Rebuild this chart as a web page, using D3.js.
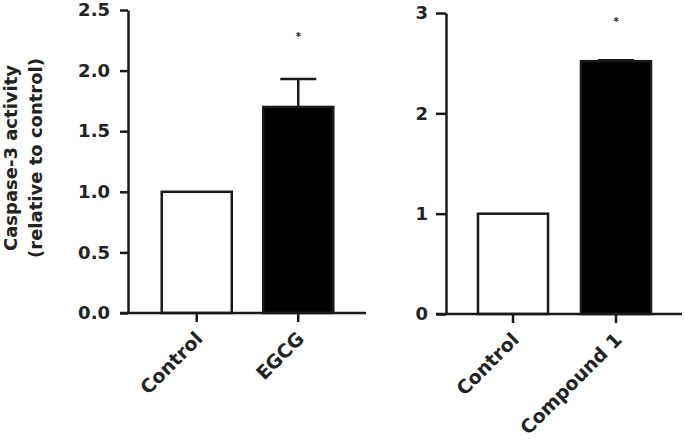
<!DOCTYPE html>
<html>
<head>
<meta charset="utf-8">
<script src="https://cdn.jsdelivr.net/npm/d3@7"></script>
<style>
  body { margin: 0; background: #fff; }
  svg text { font-family: "DejaVu Sans", sans-serif; font-weight: bold; fill: #222; }
</style>
</head>
<body>
<script>
// data
var leftCategories = ["Control", "EGCG"];
var leftValues = [1.0, 1.70];
var leftErrors = [0, 0.23];
var leftTicks = [0, 0.5, 1.0, 1.5, 2.0, 2.5];
var leftStars = [null, 2.3];

var rightCategories = ["Control", "Compound 1"];
var rightValues = [1.0, 2.52];
var rightErrors = [0, 0.01];
var rightTicks = [0, 1, 2, 3];
var rightStars = [null, 2.94];

var svg = d3.select("body").append("svg")
  .attr("width", 685)
  .attr("height", 441);

var ink = "#1a1a1a";

// y axis title, two lines
var title = svg.append("g")
  .attr("transform", "translate(0,158) rotate(-90)");
title.append("text").attr("x", 0).attr("y", 17)
  .attr("text-anchor", "middle").style("font-size", "18px")
  .text("Caspase-3 activity");
title.append("text").attr("x", 0).attr("y", 42)
  .attr("text-anchor", "middle").style("font-size", "18px")
  .text("(relative to control)");

var drawPanel = function(opts) {
  var g = svg.append("g");

  var y = d3.scaleLinear().domain(opts.domain).range([opts.y0, opts.y1]);
  var x = d3.scaleBand().domain(opts.categories)
    .range(opts.bandRange)
    .paddingInner(opts.pad)
    .paddingOuter(opts.pad / 2);

  var yAxis = d3.axisLeft(y)
    .tickValues(opts.ticks)
    .tickFormat(opts.format)
    .tickSize(opts.tickSize)
    .tickSizeOuter(0)
    .tickPadding(opts.tickPad);

  var ya = g.append("g")
    .attr("transform", "translate(" + opts.axisX + ",0)")
    .call(yAxis);
  ya.select(".domain").attr("stroke", ink).attr("stroke-width", 2.5);
  ya.selectAll(".tick line").attr("stroke", ink).attr("stroke-width", 2.5);
  ya.selectAll(".tick text")
    .style("font-family", "DejaVu Sans, sans-serif")
    .style("font-weight", "bold")
    .style("font-size", "18px")
    .attr("fill", "#222");

  // bars
  g.selectAll(".bar").data(opts.values).enter().append("rect")
    .attr("class", "bar")
    .attr("x", function(d, i) { return x(opts.categories[i]); })
    .attr("y", function(d) { return y(d); })
    .attr("width", x.bandwidth())
    .attr("height", function(d) { return y(0) - y(d); })
    .attr("fill", function(d, i) { return i === 0 ? "#fff" : "#000"; })
    .attr("stroke", ink)
    .attr("stroke-width", 2.5);

  // error bars (upper only)
  opts.errors.forEach(function(e, i) {
    if (!e) return;
    var cx = x(opts.categories[i]) + x.bandwidth() / 2;
    g.append("line")
      .attr("x1", cx).attr("x2", cx)
      .attr("y1", y(opts.values[i])).attr("y2", y(opts.values[i] + e))
      .attr("stroke", ink).attr("stroke-width", 2.5);
    g.append("line")
      .attr("x1", cx - 18).attr("x2", cx + 18)
      .attr("y1", y(opts.values[i] + e)).attr("y2", y(opts.values[i] + e))
      .attr("stroke", ink).attr("stroke-width", 2.5);
  });

  // significance stars
  opts.stars.forEach(function(s, i) {
    if (s === null) return;
    var cx = x(opts.categories[i]) + x.bandwidth() / 2;
    g.append("text")
      .attr("x", cx).attr("y", y(s) + 6)
      .attr("text-anchor", "middle")
      .style("font-size", "10px")
      .text("*");
  });

  // x axis line
  g.append("line")
    .attr("x1", opts.axisX - opts.tickSize).attr("x2", opts.xEnd)
    .attr("y1", y(0)).attr("y2", y(0))
    .attr("stroke", ink).attr("stroke-width", 2.5);

  // category ticks and rotated labels
  opts.categories.forEach(function(c) {
    var cx = x(c) + x.bandwidth() / 2;
    g.append("line")
      .attr("x1", cx).attr("x2", cx)
      .attr("y1", y(0)).attr("y2", y(0) + 9)
      .attr("stroke", ink).attr("stroke-width", 2.5);
    g.append("text")
      .attr("transform", "translate(" + (cx + 7) + "," + (y(0) + 27) + ") rotate(-45)")
      .attr("text-anchor", "end")
      .style("font-size", "19px")
      .text(c);
  });
};

drawPanel({
  categories: leftCategories, values: leftValues, errors: leftErrors,
  ticks: leftTicks, stars: leftStars, domain: [0, 2.5],
  format: d3.format(".1f"),
  y0: 313, y1: 10, axisX: 128, xEnd: 366,
  bandRange: [146, 349], pad: 0.31,
  tickSize: 8, tickPad: 10
});

drawPanel({
  categories: rightCategories, values: rightValues, errors: rightErrors,
  ticks: rightTicks, stars: rightStars, domain: [0, 3],
  format: d3.format("d"),
  y0: 314, y1: 13, axisX: 446, xEnd: 682,
  bandRange: [461.5, 667.5], pad: 0.32,
  tickSize: 10, tickPad: 8
});
</script>
</body>
</html>
